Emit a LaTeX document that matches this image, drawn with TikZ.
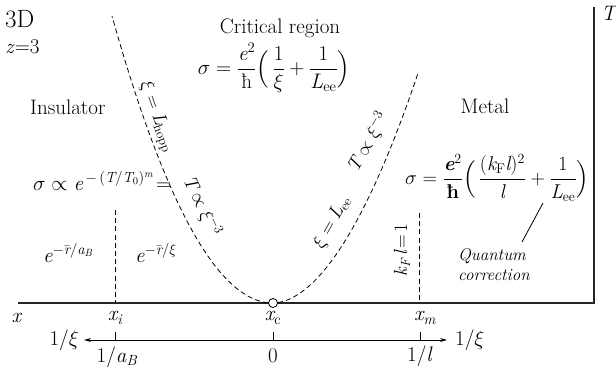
\RequirePackage{fix-cm}
\documentclass[tikz,border=0pt]{standalone}
\usepackage{amsmath}
\usepackage{fontspec}
\usetikzlibrary{arrows.meta}
\newcommand{\ti}[1]{\textit{#1}}
\newcommand{\tu}[1]{\text{#1}}
\newcommand{\gs}{\sigma}
\newcommand{\gx}{\xi}
\begin{document}
\begin{tikzpicture}[x=1pt,y=-1pt,
  font=\fontsize{21}{25}\selectfont,
  lbl/.style={inner sep=0pt},
  rot/.style={inner sep=0pt, font=\fontsize{19}{22}\selectfont},
  dashline/.style={dash pattern=on 5pt off 3.2pt, line width=0.8pt},
  axisline/.style={line width=1.1pt, draw=black!85},
  thinline/.style={line width=0.8pt},
  qfont/.style={font=\fontsize{17}{20}\selectfont\itshape}
]
\useasboundingbox (0,0) rectangle (616,368);

% axes
\coordinate (axL) at (18,303);
\coordinate (axR) at (594,303);
\coordinate (axT) at (594,7);
\draw[axisline] (axL) -- (axR) -- (axT);
\node[lbl, anchor=north west] (Tlab) at (601,6) {\ti{T}};

% critical point
\node[circle, draw, fill=white, line width=0.8pt, minimum size=9pt, inner sep=0pt] (xc) at (273,303) {};

% boundary curves
\draw[dashline] plot[domain=5:161, samples=80] ({273-\x},{303-287*(\x/161)^2});
\draw[dashline] plot[domain=5:145, samples=80] ({273+\x},{303-0.02088*\x^1.87});

% vertical dashed lines
\coordinate (xiTop) at (115,210);
\coordinate (xiBot) at (115,303);
\coordinate (xmTop) at (419,213);
\coordinate (xmBot) at (419,303);
\draw[dashline] (xiTop) -- (xiBot);
\draw[dashline] (xmTop) -- (xmBot);

% titles
\node[lbl, anchor=base west, font=\fontsize{25}{30}\selectfont] (threeD) at (5,27) {3D};
\node[lbl, anchor=base west] (zeq) at (5,53) {\ti{z}=3};
\node[lbl, anchor=base] (crit) at (280,33) {Critical region};
\node[lbl, anchor=base west] (ins) at (30,114) {Insulator};
\node[lbl, anchor=base] (metal) at (485,113) {Metal};

% formulas
\node[lbl] (fcrit) at (274,68) {$\displaystyle \gs = \frac{\ti{e}^2}{\tu{ħ}}\Bigl(\,\frac{1}{\gx} + \frac{1}{\ti{L}_{\tu{ee}}}\Bigr)$};
\node[lbl, anchor=base west] (fins) at (33,190) {$\gs \propto \ti{e}^{\,-\,(\ti{T}/\ti{T}_0)^{\ti{m}}}\!=$};
\node[lbl, anchor=base west] (fab) at (43,262) {$\ti{e}^{-\bar{\ti{r}}/\ti{a}_{\ti{B}}}$};
\node[lbl, anchor=base west] (fxi) at (135,262) {$\ti{e}^{-\bar{\ti{r}}/\gx}$};
\node[lbl, anchor=west, font=\fontsize{20}{24}\selectfont] (fmet) at (405,178) {$\displaystyle \gs = \frac{\textbf{\ti{e}}^2}{\textbf{ħ}}\Bigl(\,\frac{(\ti{k}_{\tu{F}}\ti{l})^2}{\ti{l}} + \frac{1}{\ti{L}_{\tu{ee}}}\Bigr)$};

% quantum correction
\node[lbl, qfont, anchor=north west, align=left] (qc) at (458,248) {Quantum\\correction};
\coordinate (qTop) at (543,203);
\coordinate (qBot) at (522,242);
\draw[thinline] (qTop) -- (qBot);

% rotated labels
\node[rot, rotate=-70] (lhopp) at (157,117) {$\gx = \ti{L}_{\tu{hopp}}$};
\node[rot, rotate=-65] (tl) at (202,206) {$\ti{T} \propto \gx^{-3}$};
\node[rot, rotate=61] (lee) at (332,222) {$\gx = \ti{L}_{\tu{ee}}$};
\node[rot, rotate=60] (tr) at (368,142) {$\ti{T} \propto \gx^{-3}$};
\node[rot, rotate=90] (kfl) at (402,250) {$\ti{k}_{\ti{F}}\,\ti{l}\!=\!1$};

% axis labels
\node[lbl] (xlab) at (17,318) {\ti{x}};
\node[lbl] (xilab) at (115,318) {$\ti{x}_{\ti{i}}$};
\node[lbl] (xclab) at (273,318) {$\ti{x}_{\tu{c}}$};
\node[lbl] (xmlab) at (425,318) {$\ti{x}_{\ti{m}}$};

% 1/xi axis
\coordinate (arL) at (84,340);
\coordinate (arR) at (447,340);
\draw[thinline, {Stealth[length=7pt,width=4pt]}-{Stealth[length=7pt,width=4pt]}] (arL) -- (arR);
\coordinate (tkiT) at (115,332); \coordinate (tkiB) at (115,340);
\coordinate (tkcT) at (273,332); \coordinate (tkcB) at (273,340);
\coordinate (tkmT) at (420,332); \coordinate (tkmB) at (420,340);
\draw[thinline] (tkiT) -- (tkiB);
\draw[thinline] (tkcT) -- (tkcB);
\draw[thinline] (tkmT) -- (tkmB);
\node[lbl, anchor=east] (ixiL) at (79,340) {1/$\gx$};
\node[lbl, anchor=west] (ixiR) at (455,340) {1/$\gx$};
\node[lbl] (iab) at (117,357) {1/\ti{a}$_{\ti{B}}$};
\node[lbl] (zero) at (273,356) {0};
\node[lbl] (il) at (420,356) {1/\ti{l}};
\end{tikzpicture}
\end{document}
